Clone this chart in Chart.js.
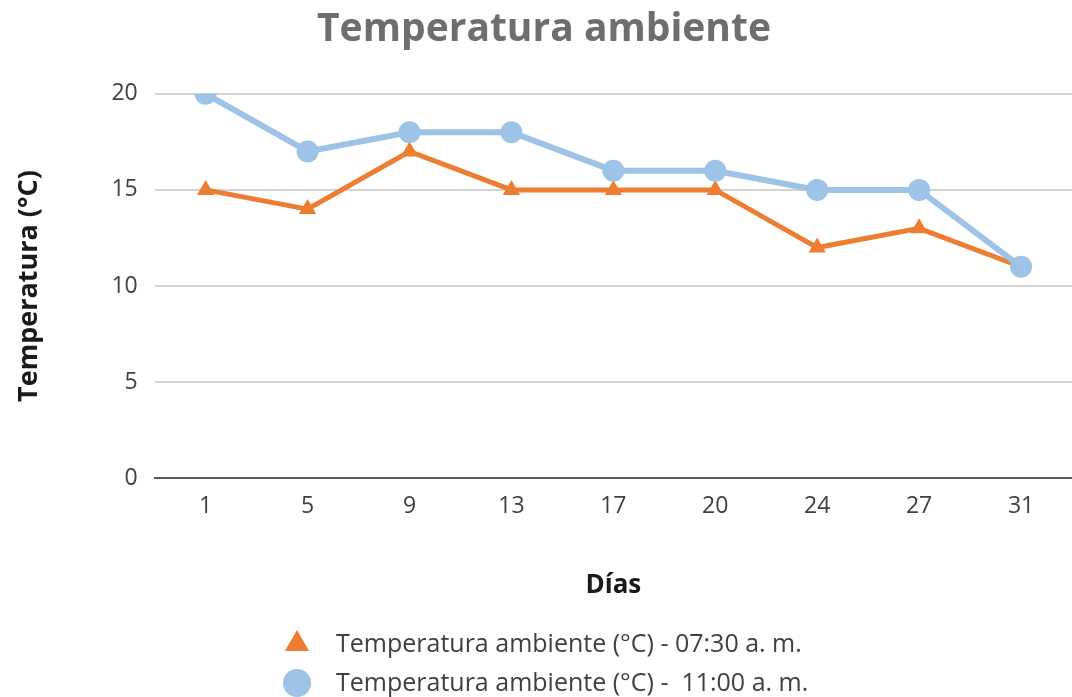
<!DOCTYPE html>
<html lang="es">
<head>
<meta charset="utf-8">
<title>Temperatura ambiente</title>
<script src="https://cdn.jsdelivr.net/npm/chart.js@4/dist/chart.umd.min.js"></script>
<style>
  html, body { margin: 0; padding: 0; background: #ffffff; }
  #wrap { width: 1072px; height: 697px; position: relative; }
</style>
</head>
<body>
<div id="wrap"><canvas id="chart" width="1072" height="697"></canvas></div>
<script>
// Días de medición
const dias = ['1', '5', '9', '13', '17', '20', '24', '27', '31'];
// Temperatura ambiente (°C) a las 07:30 a. m.
const temp0730 = [15, 14, 17, 15, 15, 15, 12, 13, 11];
// Temperatura ambiente (°C) a las 11:00 a. m.
const temp1100 = [20, 17, 18, 18, 16, 16, 15, 15, 11];
const etiquetas = [
  'Temperatura ambiente (°C) - 07:30 a. m.',
  'Temperatura ambiente (°C) -  11:00 a. m.'
];
const yTicks = [0, 5, 10, 15, 20];

const NARANJA = '#ED7D31';
const AZUL = '#9DC3E6';
const FONT = "'Open Sans', 'DejaVu Sans', sans-serif";

// Leyenda apilada debajo del título del eje X
const leyendaApilada = {
  id: 'leyendaApilada',
  afterDraw(chart) {
    const ctx = chart.ctx;
    const x0 = 297, xt = 336;
    const rows = [chart.height - 53, chart.height - 14];
    ctx.save();
    ctx.font = '25px ' + FONT;
    ctx.textBaseline = 'middle';
    ctx.textAlign = 'left';
    chart.data.datasets.forEach((ds, i) => {
      const y = rows[i];
      ctx.fillStyle = ds.backgroundColor;
      ctx.beginPath();
      if (ds.pointStyle === 'triangle') {
        const r = 14;
        ctx.moveTo(x0, y - r);
        ctx.lineTo(x0 + r * 0.866, y + r * 0.5);
        ctx.lineTo(x0 - r * 0.866, y + r * 0.5);
        ctx.closePath();
      } else {
        ctx.arc(x0, y, 14, 0, Math.PI * 2);
      }
      ctx.fill();
      ctx.fillStyle = '#404040';
      ctx.fillText(ds.label, xt, y + 1);
    });
    ctx.restore();
  }
};

new Chart(document.getElementById('chart'), {
  type: 'line',
  data: {
    labels: dias,
    datasets: [
      {
        label: etiquetas[0],
        data: temp0730,
        borderColor: NARANJA,
        backgroundColor: NARANJA,
        borderWidth: 5,
        pointStyle: 'triangle',
        pointRadius: 10,
        pointHoverRadius: 10,
        pointBorderWidth: 0,
        tension: 0,
        order: 2
      },
      {
        label: etiquetas[1],
        data: temp1100,
        borderColor: AZUL,
        backgroundColor: AZUL,
        borderWidth: 6,
        pointStyle: 'circle',
        pointRadius: 11,
        pointHoverRadius: 11,
        pointBorderWidth: 0,
        tension: 0,
        order: 1
      }
    ]
  },
  options: {
    responsive: false,
    animation: false,
    devicePixelRatio: 1,
    layout: { autoPadding: false, padding: { left: 0, right: -16, top: 0, bottom: 95 } },
    plugins: {
      legend: { display: false },
      tooltip: { enabled: false },
      title: {
        display: true,
        text: 'Temperatura ambiente',
        color: '#6e6e6e',
        font: { family: FONT, size: 39, weight: 'bold' },
        padding: { top: 6, bottom: 41 }
      }
    },
    scales: {
      x: {
        offset: true,
        grid: { display: false, drawTicks: false },
        border: { display: true, color: '#595959', width: 2 },
        ticks: {
          color: '#404040',
          font: { family: FONT, size: 23 },
          padding: 14,
          maxRotation: 0
        },
        title: {
          display: true,
          text: 'Días',
          color: '#1a1a1a',
          font: { family: FONT, size: 26, weight: 'bold' },
          padding: { top: 36, bottom: 1 }
        }
      },
      y: {
        min: 0,
        max: 20,
        afterBuildTicks(scale) {
          scale.ticks = yTicks.map(v => ({ value: v }));
        },
        grid: { color: '#d4d4d4', lineWidth: 2, drawTicks: false },
        border: { display: false },
        ticks: {
          color: '#404040',
          font: { family: FONT, size: 23 },
          padding: 17
        },
        title: {
          display: true,
          text: 'Temperatura (°C)',
          color: '#1a1a1a',
          font: { family: FONT, size: 27, weight: 'bold' },
          padding: { top: 13, bottom: 49 }
        }
      }
    }
  },
  plugins: [leyendaApilada]
});
</script>
</body>
</html>
